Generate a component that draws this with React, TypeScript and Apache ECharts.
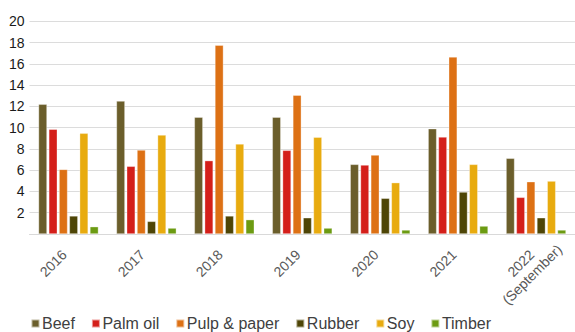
import React, { useEffect, useRef } from "react";
import * as echarts from "echarts";

const categories = ["2016", "2017", "2018", "2019", "2020", "2021", "2022\n(September)"];
const seriesNames = ["Beef", "Palm oil", "Pulp & paper", "Rubber", "Soy", "Timber"];
const beef = [12.2, 12.5, 10.98, 10.98, 6.55, 9.9, 7.12];
const palmOil = [9.85, 6.37, 6.9, 7.87, 6.49, 9.12, 3.45];
const pulpPaper = [6.08, 7.9, 17.75, 13.05, 7.43, 16.65, 4.92];
const rubber = [1.7, 1.19, 1.7, 1.53, 3.36, 3.95, 1.53];
const soy = [9.47, 9.31, 8.47, 9.1, 4.83, 6.55, 4.98];
const timber = [0.69, 0.56, 1.35, 0.56, 0.38, 0.75, 0.38];
const seriesValues = [beef, palmOil, pulpPaper, rubber, soy, timber];
const colors = ["#6b5e2b", "#d41f1a", "#dd7115", "#4e4506", "#e8ab0f", "#6c9b12"];
const yTicks = { min: 0, max: 20, interval: 2 };

export default function App() {
  const ref = useRef<HTMLDivElement>(null);
  useEffect(() => {
    document.body.style.margin = "0";
    document.body.style.overflow = "hidden";
    if (!ref.current) return;
    const chart = echarts.init(ref.current, null, { renderer: "svg" });
    const font = "'Liberation Sans', Arial, Helvetica, sans-serif";
    chart.setOption({
      animation: false,
      textStyle: { fontFamily: font },
      grid: { left: 29.5, right: 0, top: 21.3, bottom: 98, containLabel: false },
      legend: {
        data: seriesNames,
        left: 30.5,
        top: 315.5,
        padding: 0,
        icon: "rect",
        itemWidth: 8,
        itemHeight: 8,
        itemGap: 16,
        textStyle: { fontSize: 16, color: "#404040", fontFamily: font, padding: [0, 0, 0, -2.5] },
      },
      xAxis: {
        type: "category",
        data: categories,
        axisLine: { show: true, lineStyle: { color: "#d9d9d9", width: 1 } },
        axisTick: { show: false },
        axisLabel: {
          interval: 0,
          rotate: 45,
          margin: 14,
          fontSize: 14,
          color: "#595959",
          fontFamily: font,
          width: 31,
          overflow: "none",
          verticalAlign: "top",
          padding: [-8, 6, 0, 0],
          formatter: (v: string) =>
            v
              .split("\n")
              .map((s) => "{c|" + s + "}")
              .join("\n"),
          rich: {
            c: { align: "center", fontSize: 14, color: "#595959", fontFamily: font, lineHeight: 16 },
          },
        },
      },
      yAxis: {
        type: "value",
        min: yTicks.min,
        max: yTicks.max,
        interval: yTicks.interval,
        axisLine: { show: false },
        axisTick: { show: false },
        splitLine: { lineStyle: { color: "#dcdcdc", width: 1 } },
        axisLabel: {
          margin: 5,
          fontSize: 14,
          color: "#1a1a1a",
          fontFamily: font,
          formatter: (v: number) => (v === 0 ? "" : String(v)),
        },
      },
      series: seriesNames.map((name, i) => ({
        name,
        type: "bar",
        data: seriesValues[i],
        barWidth: 8.5,
        barGap: "21%",
        itemStyle: {
          color: colors[i],
          borderColor: "rgba(255,255,255,0.55)",
          borderWidth: 0.6,
        },
      })),
    });
    return () => chart.dispose();
  }, []);
  return <div ref={ref} style={{ width: 575, height: 332 }} />;
}
